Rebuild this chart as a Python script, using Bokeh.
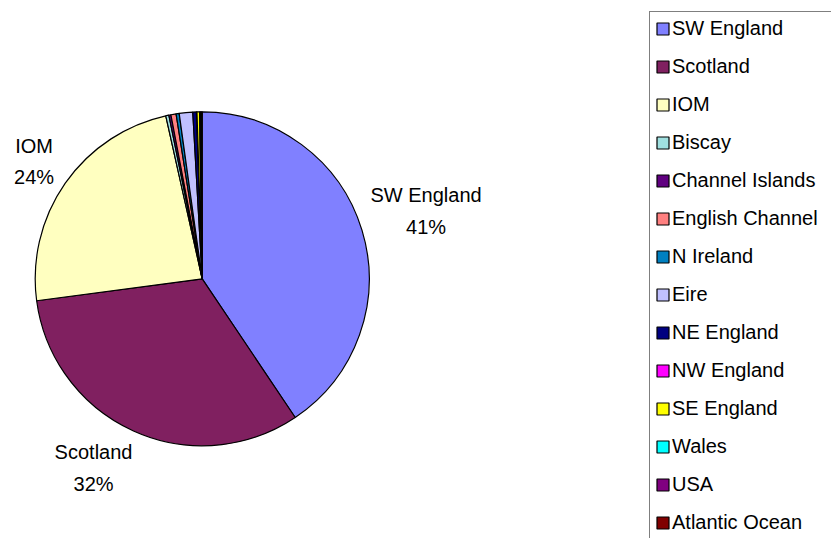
import math
from bokeh.plotting import figure
from bokeh.models import ColumnDataSource, Range1d, Legend, LegendItem
from bokeh.core.properties import value
from bokeh.embed import file_html
from bokeh.resources import INLINE

# ---- data ----
categories = ["SW England", "Scotland", "IOM", "Biscay", "Channel Islands",
              "English Channel", "N Ireland", "Eire", "NE England", "NW England",
              "SE England", "Wales", "USA", "Atlantic Ocean"]
shares = [40.6, 32.3, 23.6, 0.3, 0.2, 0.5, 0.3, 1.3, 0.35, 0.05, 0.25, 0.1, 0.05, 0.1]
colors = ["#8080FF", "#802060", "#FFFFC0", "#A0E0E0", "#600080", "#FF8080",
          "#0080C0", "#C0C0FF", "#000080", "#FF00FF", "#FFFF00", "#00FFFF",
          "#800080", "#800000"]
labelled = ["SW England", "Scotland", "IOM"]

# ---- layout ----
W, H = 831, 538
CX, CY, R = 201.7, 259.7, 167.0
FONT = "Liberation Sans"
FS = "20px"

total = sum(shares)
starts, ends = [], []
cum = 0.0
for v in shares:
    a0 = math.pi / 2 - 2 * math.pi * cum / total
    cum += v
    a1 = math.pi / 2 - 2 * math.pi * cum / total
    starts.append(a0)
    ends.append(a1)

src = ColumnDataSource(dict(cat=categories, val=shares, color=colors,
                            start=starts, end=ends))

p = figure(width=W, height=H, output_backend="svg", toolbar_location=None,
           x_range=Range1d(0, W), y_range=Range1d(0, H), min_border=0)
p.axis.visible = False
p.grid.visible = False
p.outline_line_color = None
p.background_fill_color = "white"

r = p.wedge(x=CX, y=CY, radius=R, start_angle="start", end_angle="end",
            direction="clock", fill_color="color", line_color="black",
            line_width=1.2, source=src)

# data labels (radial placement around mid-angle)
label_r = {"SW England": 234, "Scotland": 218, "IOM": 205}
label_nudge = {"SW England": 0.0, "Scotland": -5.6, "IOM": 0.0}
lx, ly, lt = [], [], []
for i, c in enumerate(categories):
    if c in labelled:
        mid = (starts[i] + ends[i]) / 2 + math.radians(label_nudge[c])
        lx.append(CX + label_r[c] * math.cos(mid))
        ly.append(CY + label_r[c] * math.sin(mid))
        lt.append(f"{c}\n{round(shares[i] / total * 100)}%")
p.text(x=lx, y=ly, text=lt, text_align="center", text_baseline="middle",
       text_font=value(FONT), text_font_size=FS, text_color="black",
       text_line_height=1.45)

items = [LegendItem(label=c, renderers=[r], index=i) for i, c in enumerate(categories)]
legend = Legend(items=items, location=(649, -2), orientation="vertical",
                label_text_font=FONT, label_text_font_size=FS,
                label_text_color="black", glyph_width=15, glyph_height=15,
                label_height=23, label_width=200, label_standoff=2,
                spacing=15, padding=5,
                margin=0, border_line_color="black", border_line_width=1,
                background_fill_color="white", background_fill_alpha=1.0)
p.add_layout(legend)

open("out.html", "w").write(file_html(p, INLINE))
